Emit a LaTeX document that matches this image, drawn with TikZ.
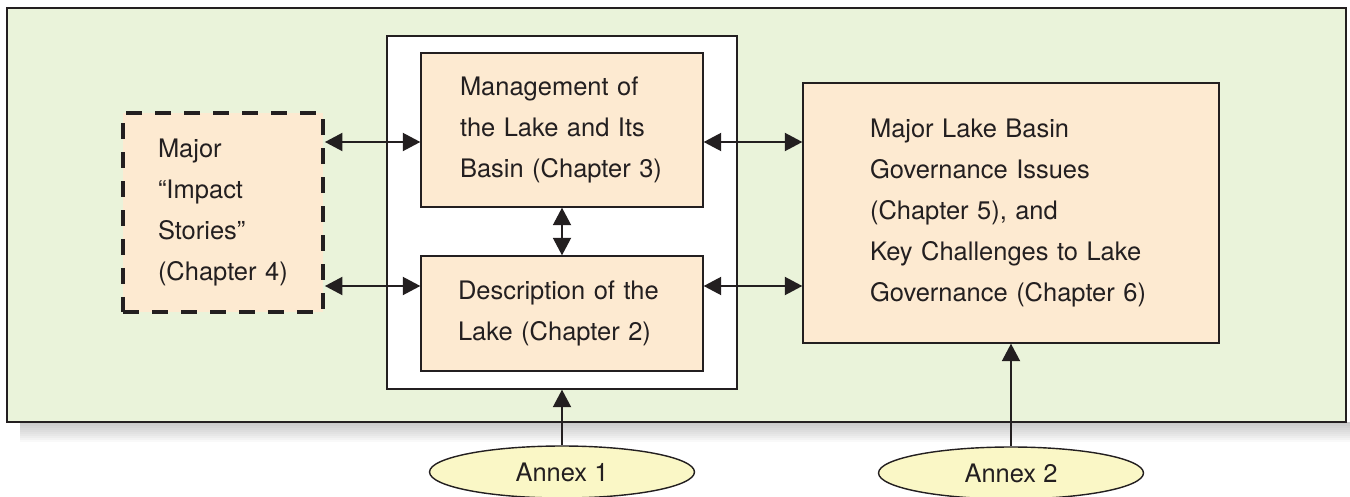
\documentclass[tikz,border=0pt]{standalone}
\usepackage{fontspec}
\setmainfont{TeX Gyre Heros}
\usetikzlibrary{arrows.meta,shapes.geometric}
\definecolor{bggreen}{RGB}{234,243,218}
\definecolor{boxorange}{RGB}{253,234,209}
\definecolor{annexyellow}{RGB}{250,247,198}
\definecolor{ink}{RGB}{35,31,32}
\begin{document}
\begin{tikzpicture}
  [x=0.02cm, y=-0.02cm,
  txt/.style={font=\fontsize{14.5}{23.3}\selectfont, text=ink},
  chapter/.style={txt, draw=ink, line width=.8pt, fill=boxorange, align=left, inner sep=0pt},
  annex/.style={txt, ellipse, draw=ink, line width=.8pt, fill=annexyellow,
    minimum width=5.3cm, minimum height=1.04cm, inner sep=0pt},
  link/.style={draw=ink, line width=1.1pt,
    {Triangle[length=3.5mm,width=3.6mm]}-{Triangle[length=3.5mm,width=3.6mm]}},
  feed/.style={draw=ink, line width=1.1pt, -{Triangle[length=3.5mm,width=3.6mm]}}]
  \useasboundingbox (0,0) rectangle (1350,497);
  %Hintergrund mit Schatten
  \foreach \i in {1,...,10}
    \fill[black, opacity=0.025] (20,422) rectangle (1350,422+2*\i);
  \draw[draw=ink, line width=.9pt, fill=bggreen] (7,8) rectangle (1346,422);
  %Kapitel
  \node[draw=ink, fill=white, line width=.8pt, minimum width=7cm, minimum height=7.06cm,
    inner sep=0pt] (frame) at (562,212.5) {};
  \node[chapter, line width=2.2pt, dash pattern=on 3.2mm off 2.6mm,
    minimum width=4cm, minimum height=3.98cm, text width=2.6cm]
    (stories) at (223,212.5) {Major\\“Impact\\Stories”\\(Chapter 4)};
  \node[chapter, minimum width=5.64cm, minimum height=3.08cm, text width=4.08cm]
    (mgmt) at (562,130) {Management of\\the Lake and Its\\Basin (Chapter 3)};
  \node[chapter, minimum width=5.64cm, minimum height=2.3cm, text width=4.16cm]
    (desc) at (562,313.5) {Description of the\\Lake (Chapter 2)};
  \node[chapter, minimum width=8.32cm, minimum height=5.2cm, text width=5.64cm]
    (issues) at (1011,213) {Major Lake Basin\\Governance Issues\\(Chapter 5), and\\Key Challenges to Lake\\Governance (Chapter 6)};
  %Anhaenge
  \node[annex] (annexa) at (562,472) {Annex 1};
  \node[annex] (annexb) at (1011,473) {Annex 2};
  %Pfeile
  \coordinate (up) at (0,142);
  \coordinate (lo) at (0,286);
  \draw[link] (stories.east |- up) -- (mgmt.west |- up);
  \draw[link] (stories.east |- lo) -- (desc.west |- lo);
  \draw[link] (mgmt.east |- up) -- (issues.west |- up);
  \draw[link] (desc.east |- lo) -- (issues.west |- lo);
  \draw[link] (mgmt.south) -- (desc.north);
  \draw[feed] (annexa.north) -- (frame.south);
  \draw[feed] (annexb.north) -- (issues.south);
\end{tikzpicture}
\end{document}
